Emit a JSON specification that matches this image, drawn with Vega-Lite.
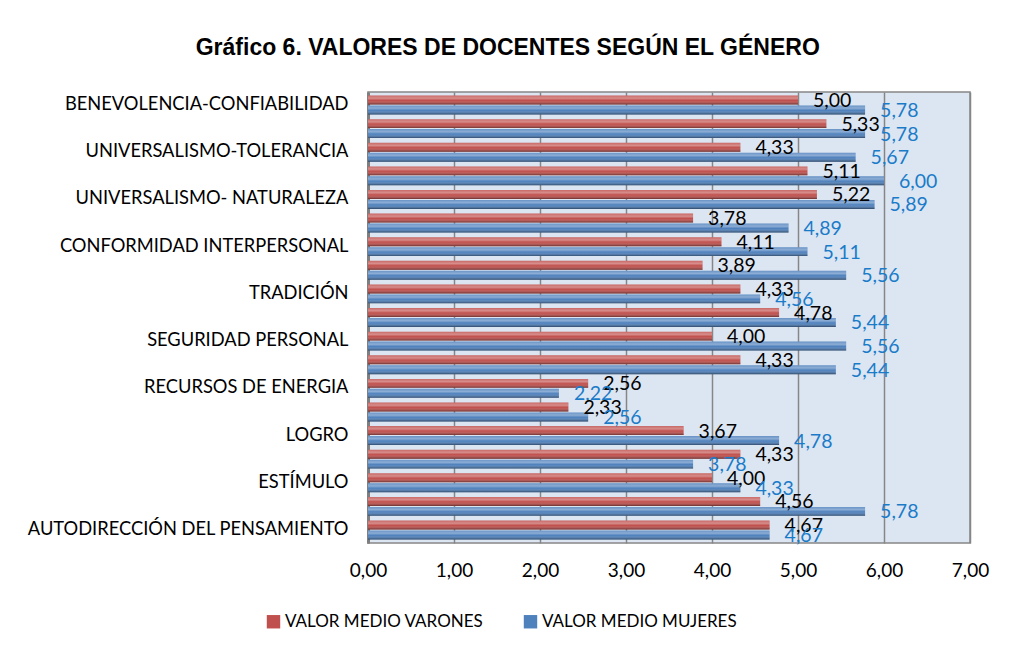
{
  "$schema": "https://vega.github.io/schema/vega-lite/v6.json",
  "autosize": {"type": "none"},
  "padding": {"left": 368, "top": 92, "right": 41, "bottom": 108},
  "width": 602,
  "height": 451,
  "background": "white",
  "title": {
    "text": "Gráfico 6. VALORES DE DOCENTES SEGÚN EL GÉNERO",
    "font": "Liberation Sans",
    "fontSize": 23,
    "fontWeight": "bold",
    "color": "black",
    "anchor": "middle",
    "frame": "bounds",
    "offset": 31
  },
  "data": {
    "values": [
      {"categoria": "BENEVOLENCIA-CONFIABILIDAD", "serie": "VALOR MEDIO VARONES", "valor": 5.00},
      {"categoria": "BENEVOLENCIA-CONFIABILIDAD", "serie": "VALOR MEDIO MUJERES", "valor": 5.78},
      {"categoria": "BENEVOLENCIA-CUIDADO", "serie": "VALOR MEDIO VARONES", "valor": 5.33},
      {"categoria": "BENEVOLENCIA-CUIDADO", "serie": "VALOR MEDIO MUJERES", "valor": 5.78},
      {"categoria": "UNIVERSALISMO-TOLERANCIA", "serie": "VALOR MEDIO VARONES", "valor": 4.33},
      {"categoria": "UNIVERSALISMO-TOLERANCIA", "serie": "VALOR MEDIO MUJERES", "valor": 5.67},
      {"categoria": "UNIVERSALISMO-COMPROMISO", "serie": "VALOR MEDIO VARONES", "valor": 5.11},
      {"categoria": "UNIVERSALISMO-COMPROMISO", "serie": "VALOR MEDIO MUJERES", "valor": 6.00},
      {"categoria": "UNIVERSALISMO- NATURALEZA ", "serie": "VALOR MEDIO VARONES", "valor": 5.22},
      {"categoria": "UNIVERSALISMO- NATURALEZA ", "serie": "VALOR MEDIO MUJERES", "valor": 5.89},
      {"categoria": "HUMILDAD", "serie": "VALOR MEDIO VARONES", "valor": 3.78},
      {"categoria": "HUMILDAD", "serie": "VALOR MEDIO MUJERES", "valor": 4.89},
      {"categoria": "CONFORMIDAD INTERPERSONAL", "serie": "VALOR MEDIO VARONES", "valor": 4.11},
      {"categoria": "CONFORMIDAD INTERPERSONAL", "serie": "VALOR MEDIO MUJERES", "valor": 5.11},
      {"categoria": "CONFORMIDAD-REGLAS", "serie": "VALOR MEDIO VARONES", "valor": 3.89},
      {"categoria": "CONFORMIDAD-REGLAS", "serie": "VALOR MEDIO MUJERES", "valor": 5.56},
      {"categoria": "TRADICIÓN", "serie": "VALOR MEDIO VARONES", "valor": 4.33},
      {"categoria": "TRADICIÓN", "serie": "VALOR MEDIO MUJERES", "valor": 4.56},
      {"categoria": "SEGURIDAD SOCIAL", "serie": "VALOR MEDIO VARONES", "valor": 4.78},
      {"categoria": "SEGURIDAD SOCIAL", "serie": "VALOR MEDIO MUJERES", "valor": 5.44},
      {"categoria": "SEGURIDAD PERSONAL", "serie": "VALOR MEDIO VARONES", "valor": 4.00},
      {"categoria": "SEGURIDAD PERSONAL", "serie": "VALOR MEDIO MUJERES", "valor": 5.56},
      {"categoria": "IMAGEN", "serie": "VALOR MEDIO VARONES", "valor": 4.33},
      {"categoria": "IMAGEN", "serie": "VALOR MEDIO MUJERES", "valor": 5.44},
      {"categoria": "RECURSOS DE ENERGIA", "serie": "VALOR MEDIO VARONES", "valor": 2.56},
      {"categoria": "RECURSOS DE ENERGIA", "serie": "VALOR MEDIO MUJERES", "valor": 2.22},
      {"categoria": "DOMINIO", "serie": "VALOR MEDIO VARONES", "valor": 2.33},
      {"categoria": "DOMINIO", "serie": "VALOR MEDIO MUJERES", "valor": 2.56},
      {"categoria": "LOGRO", "serie": "VALOR MEDIO VARONES", "valor": 3.67},
      {"categoria": "LOGRO", "serie": "VALOR MEDIO MUJERES", "valor": 4.78},
      {"categoria": "HEDONISMO", "serie": "VALOR MEDIO VARONES", "valor": 4.33},
      {"categoria": "HEDONISMO", "serie": "VALOR MEDIO MUJERES", "valor": 3.78},
      {"categoria": "ESTÍMULO", "serie": "VALOR MEDIO VARONES", "valor": 4.00},
      {"categoria": "ESTÍMULO", "serie": "VALOR MEDIO MUJERES", "valor": 4.33},
      {"categoria": "AUTODIRECCIÓN DE LA ACCIÓN", "serie": "VALOR MEDIO VARONES", "valor": 4.56},
      {"categoria": "AUTODIRECCIÓN DE LA ACCIÓN", "serie": "VALOR MEDIO MUJERES", "valor": 5.78},
      {"categoria": "AUTODIRECCIÓN DEL PENSAMIENTO", "serie": "VALOR MEDIO VARONES", "valor": 4.67},
      {"categoria": "AUTODIRECCIÓN DEL PENSAMIENTO", "serie": "VALOR MEDIO MUJERES", "valor": 4.67}
    ]
  },
  "encoding": {
    "y": {
      "field": "categoria",
      "type": "nominal",
      "sort": null,
      "title": null,
      "scale": {"paddingInner": 0.2, "paddingOuter": 0.15},
      "axis": {
        "values": ["BENEVOLENCIA-CONFIABILIDAD", "UNIVERSALISMO-TOLERANCIA", "UNIVERSALISMO- NATURALEZA ", "CONFORMIDAD INTERPERSONAL", "TRADICIÓN", "SEGURIDAD PERSONAL", "RECURSOS DE ENERGIA", "LOGRO", "ESTÍMULO", "AUTODIRECCIÓN DEL PENSAMIENTO"],
        "ticks": false,
        "labelPadding": 20,
        "labelFont": "Lato",
        "labelFontSize": 18.3,
        "labelColor": "black",
        "labelLimit": 400,
        "domainColor": "#7f7f7f",
        "domainWidth": 3
      }
    },
    "yOffset": {
      "field": "serie",
      "type": "nominal",
      "sort": ["VALOR MEDIO VARONES", "VALOR MEDIO MUJERES"],
      "scale": {"paddingInner": 0.1}
    },
    "x": {
      "field": "valor",
      "type": "quantitative",
      "scale": {"domain": [0, 7], "nice": false},
      "title": null,
      "axis": {
        "values": [0, 1, 2, 3, 4, 5, 6, 7],
        "format": ".2f",
        "ticks": false,
        "domain": false,
        "labelFlush": false,
        "labelPadding": 18,
        "labelFont": "Lato",
        "labelFontSize": 19,
        "labelColor": "black",
        "gridColor": "#868686",
        "gridWidth": 1.5
      }
    }
  },
  "layer": [
    {
      "mark": {"type": "bar", "cornerRadius": 0},
      "encoding": {
        "color": {
          "field": "serie",
          "type": "nominal",
          "scale": {"domain": ["VALOR MEDIO VARONES", "VALOR MEDIO MUJERES"], "range": ["#c0504d", "#4f81bd"]},
          "legend": {
            "title": null,
            "orient": "none",
            "direction": "horizontal",
            "legendX": -103,
            "legendY": 521,
            "symbolType": "square",
            "symbolSize": 180,
            "symbolStrokeWidth": 0,
            "symbolOpacity": 1,
            "labelFont": "Lato",
            "labelFontSize": 17,
            "labelColor": "black",
            "labelOffset": 3,
            "columnPadding": 38,
            "labelLimit": 300
          }
        }
      }
    },
    {
      "mark": {
        "type": "bar",
        "color": {
          "gradient": "linear",
          "x1": 0, "y1": 0, "x2": 0, "y2": 1,
          "stops": [
            {"offset": 0, "color": "rgba(255,255,255,0.15)"},
            {"offset": 0.3, "color": "rgba(255,255,255,0.35)"},
            {"offset": 0.55, "color": "rgba(255,255,255,0.0)"},
            {"offset": 1, "color": "rgba(0,0,0,0.45)"}
          ]
        }
      },
      "encoding": {}
    },
    {
      "mark": {"type": "text", "align": "left", "baseline": "middle", "dx": 15, "dy": 1, "font": "Lato", "fontSize": 19.5},
      "encoding": {
        "text": {"field": "valor", "type": "quantitative", "format": ".2f"},
        "color": {
          "condition": {"test": "datum.serie === 'VALOR MEDIO VARONES'", "value": "black"},
          "value": "#1a7bc9"
        }
      }
    }
  ],
  "config": {
    "locale": {"number": {"decimal": ",", "thousands": ".", "grouping": [3], "currency": ["", " €"]}},
    "view": {"fill": "#dce6f2", "stroke": "#868686", "strokeWidth": 1.5}
  }
}
